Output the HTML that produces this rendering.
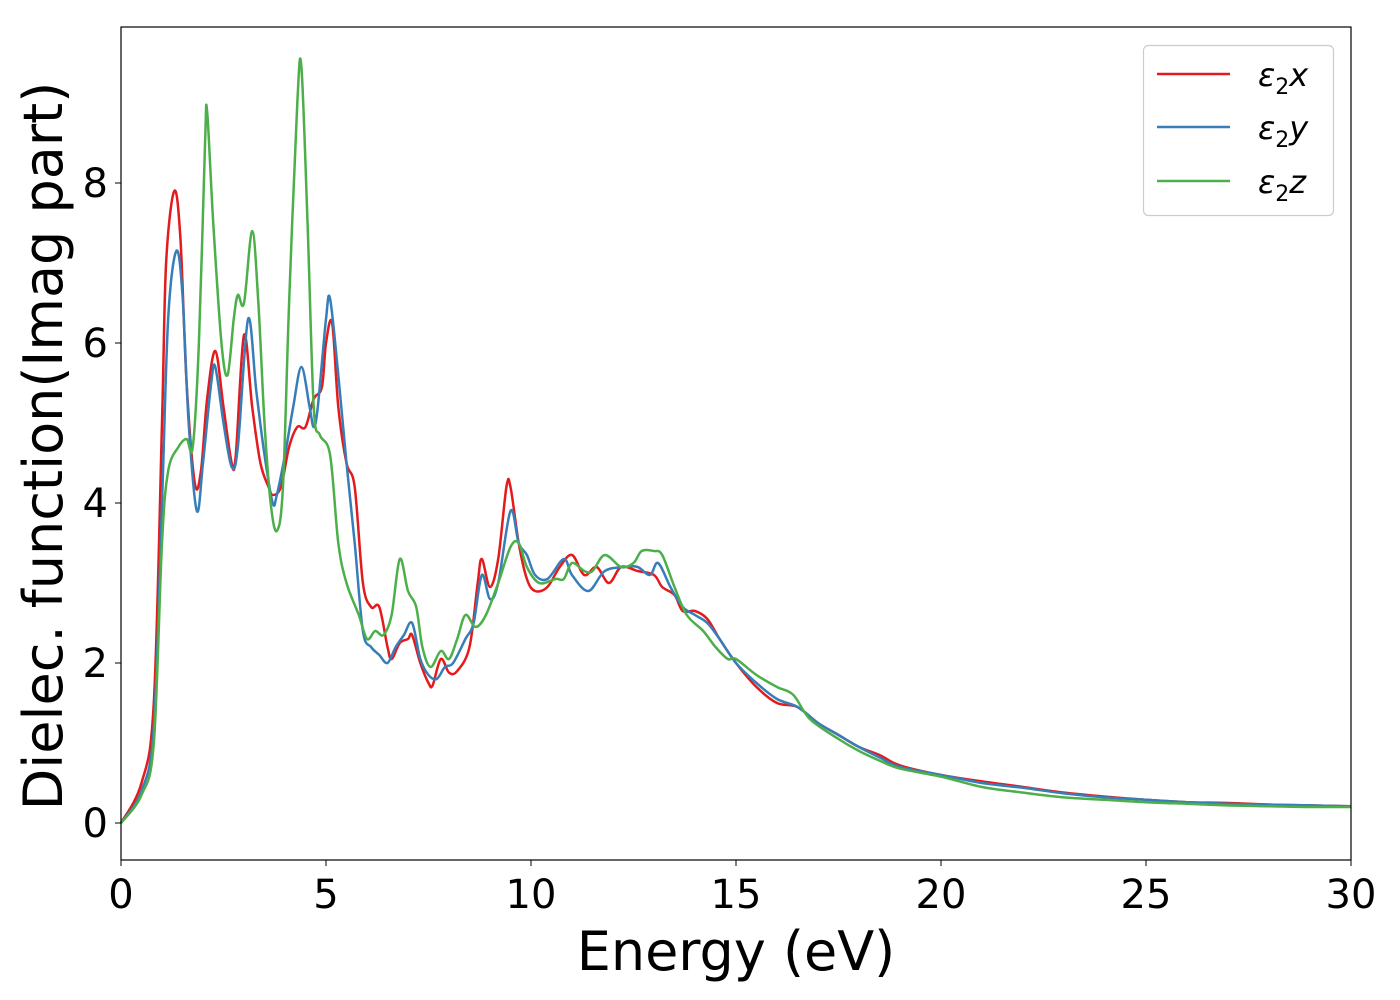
<!DOCTYPE html>
<html><head><meta charset="utf-8"><style>
html,body{margin:0;padding:0;background:#fff;}
svg{display:block;font-family:"DejaVu Sans","Liberation Sans",sans-serif;}
</style></head><body>
<svg id="chart" width="1400" height="1000" viewBox="0 0 1400 1000">
<rect x="0" y="0" width="1400" height="1000" fill="#fff"/>
<g id="series"></g>
<rect x="121" y="27" width="1230" height="833" fill="none" stroke="#000" stroke-width="1.2"/>
<g id="xticks"></g>
<g id="yticks"></g>
<text x="736" y="970" font-size="54" text-anchor="middle">Energy (eV)</text>
<text transform="translate(62,446) rotate(-90)" font-size="54" text-anchor="middle">Dielec. function(Imag part)</text>
<g>
<rect x="1143.5" y="45.5" width="190" height="170" rx="5" fill="#fff" fill-opacity="0.8" stroke="#ccc" stroke-width="1.2"/>
<line x1="1157" y1="74" x2="1230" y2="74" stroke="#e41a1c" stroke-width="2.5"/>
<text x="1258" y="86" font-size="32" font-style="italic">ε<tspan font-style="normal" font-size="22" dy="8">2</tspan><tspan dy="-8">x</tspan></text>
<line x1="1157" y1="127" x2="1230" y2="127" stroke="#377eb8" stroke-width="2.5"/>
<text x="1258" y="139" font-size="32" font-style="italic">ε<tspan font-style="normal" font-size="22" dy="8">2</tspan><tspan dy="-8">y</tspan></text>
<line x1="1157" y1="181" x2="1230" y2="181" stroke="#4daf4a" stroke-width="2.5"/>
<text x="1258" y="193" font-size="32" font-style="italic">ε<tspan font-style="normal" font-size="22" dy="8">2</tspan><tspan dy="-8">z</tspan></text>
</g>
</svg>
<script>
const xTicks=[0,5,10,15,20,25,30];
const yTicks=[0,2,4,6,8];
const energyX=[0,0.5,0.8,1.0,1.1,1.3,1.45,1.6,1.8,1.95,2.1,2.3,2.5,2.7,2.8,3.0,3.2,3.4,3.6,3.7,3.9,4.1,4.3,4.5,4.7,4.9,5.0,5.15,5.3,5.5,5.7,5.9,6.1,6.3,6.5,6.6,6.8,7.0,7.1,7.3,7.5,7.6,7.8,8.0,8.2,8.5,8.7,8.8,9.0,9.2,9.4,9.5,9.7,9.9,10.1,10.4,10.7,11.0,11.3,11.6,11.9,12.2,12.6,13.0,13.2,13.5,13.7,14.0,14.3,14.6,15,15.5,16,16.5,17,17.5,18,18.5,19,20,21,22,23,24,25,26,27,28,29,30];
const eps2x=[0,0.5,1.5,5.0,7.0,7.9,7.3,5.5,4.25,4.4,5.3,5.9,5.2,4.5,4.6,6.1,5.2,4.5,4.2,4.1,4.2,4.7,4.95,4.95,5.3,5.45,6.0,6.25,5.2,4.5,4.2,3.0,2.7,2.7,2.2,2.05,2.25,2.3,2.35,2.0,1.75,1.72,2.05,1.88,1.9,2.2,3.0,3.3,2.95,3.3,4.2,4.2,3.5,3.05,2.9,2.95,3.2,3.35,3.1,3.2,3.0,3.2,3.15,3.1,2.95,2.85,2.65,2.65,2.55,2.3,2.0,1.7,1.5,1.45,1.25,1.1,0.95,0.85,0.72,0.6,0.52,0.45,0.38,0.33,0.29,0.26,0.25,0.23,0.22,0.21];
const energyY=[0,0.5,0.8,1.0,1.15,1.35,1.5,1.65,1.85,2.0,2.2,2.3,2.5,2.7,2.85,3.1,3.3,3.5,3.7,3.8,4.0,4.2,4.4,4.6,4.7,4.8,5.0,5.1,5.3,5.5,5.7,5.9,6.1,6.3,6.5,6.7,6.9,7.1,7.3,7.5,7.7,7.9,8.1,8.4,8.6,8.8,9.0,9.2,9.5,9.7,9.9,10.1,10.4,10.8,11.0,11.4,11.8,12.3,12.6,12.9,13.1,13.4,13.7,14.0,14.3,14.6,15,15.5,16,16.5,17,17.5,18,18.5,19,20,21,22,23,24,25,26,27,28,29,30];
const eps2y=[0,0.4,1.2,4.0,6.3,7.15,6.6,5.0,3.9,4.5,5.5,5.7,5.0,4.45,4.7,6.3,5.4,4.6,4.0,4.1,4.6,5.2,5.7,5.2,4.95,5.2,6.3,6.55,5.6,4.5,3.5,2.4,2.2,2.1,2.0,2.2,2.35,2.5,2.05,1.85,1.8,1.95,2.0,2.3,2.5,3.1,2.8,3.0,3.9,3.5,3.35,3.1,3.05,3.3,3.1,2.9,3.15,3.2,3.2,3.1,3.25,2.95,2.7,2.6,2.5,2.3,2.0,1.75,1.55,1.45,1.25,1.1,0.95,0.82,0.7,0.6,0.5,0.44,0.37,0.32,0.29,0.26,0.24,0.23,0.22,0.21];
const energyZ=[0,0.5,0.8,1.0,1.15,1.4,1.6,1.75,1.9,2.05,2.1,2.25,2.45,2.6,2.75,2.85,3.0,3.2,3.35,3.5,3.65,3.8,3.95,4.1,4.3,4.4,4.55,4.7,4.85,5.1,5.3,5.5,5.8,6.0,6.2,6.4,6.6,6.8,7.0,7.2,7.35,7.55,7.8,8.0,8.2,8.4,8.65,8.9,9.2,9.5,9.7,9.9,10.2,10.6,10.8,11.0,11.3,11.5,11.8,12.2,12.5,12.7,13.0,13.2,13.5,13.8,14.2,14.5,14.8,15.0,15.5,16,16.4,16.8,17.5,18,18.5,19,20,21,22,23,24,25,26,27,28,29,30];
const eps2z=[0,0.35,1.0,3.5,4.4,4.7,4.8,4.7,6.0,8.5,8.9,7.5,6.0,5.6,6.3,6.6,6.5,7.4,6.5,5.0,4.0,3.65,4.2,6.5,9.0,9.45,7.5,5.2,4.85,4.6,3.5,3.0,2.6,2.3,2.4,2.35,2.6,3.3,2.9,2.7,2.2,1.95,2.15,2.05,2.3,2.6,2.45,2.6,3.0,3.45,3.5,3.2,3.0,3.05,3.05,3.25,3.15,3.15,3.35,3.2,3.25,3.4,3.4,3.35,2.95,2.6,2.4,2.2,2.05,2.05,1.85,1.7,1.6,1.3,1.05,0.9,0.78,0.68,0.58,0.45,0.38,0.32,0.29,0.26,0.24,0.22,0.21,0.2,0.2];

const NS='http://www.w3.org/2000/svg';
const X0=121,X1=1351,Y0=823,YPU=80;
const xs=e=>X0+(e-0)/(30-0)*(X1-X0);
const ys=v=>Y0-v*YPU;

const xt=document.getElementById('xticks');
xTicks.forEach(t=>{
  const l=document.createElementNS(NS,'line');
  l.setAttribute('x1',xs(t));l.setAttribute('x2',xs(t));l.setAttribute('y1',860);l.setAttribute('y2',866);
  l.setAttribute('stroke','#000');
  
  
  xt.appendChild(l);
  const tx=document.createElementNS(NS,'text');
  tx.setAttribute('x',xs(t));tx.setAttribute('y',908);tx.setAttribute('font-size','40');tx.setAttribute('text-anchor','middle');
  tx.textContent=t;
  
  
  xt.appendChild(tx);
});
const yt=document.getElementById('yticks');
yTicks.forEach(t=>{
  const l=document.createElementNS(NS,'line');
  l.setAttribute('x1',115);l.setAttribute('x2',121);l.setAttribute('y1',ys(t));l.setAttribute('y2',ys(t));
  l.setAttribute('stroke','#000');
  
  
  yt.appendChild(l);
  const tx=document.createElementNS(NS,'text');
  tx.setAttribute('x',108);tx.setAttribute('y',ys(t)+14);tx.setAttribute('font-size','40');tx.setAttribute('text-anchor','end');
  tx.textContent=t;
  
  
  yt.appendChild(tx);
});

function smoothPath(ex,vy){
  const p=ex.map((e,i)=>[xs(e),ys(vy[i])]);
  let d='M'+p[0][0]+','+p[0][1];
  for(let i=0;i<p.length-1;i++){
    const p0=p[i-1]||p[i],p1=p[i],p2=p[i+1],p3=p[i+2]||p2;
    const c1=[p1[0]+(p2[0]-p0[0])/6,p1[1]+(p2[1]-p0[1])/6];
    const c2=[p2[0]-(p3[0]-p1[0])/6,p2[1]-(p3[1]-p1[1])/6];
    d+=' C'+c1[0]+','+c1[1]+' '+c2[0]+','+c2[1]+' '+p2[0]+','+p2[1];
  }
  return d;
}
const sg=document.getElementById('series');
[[energyX,eps2x,'#e41a1c','eps2-x-line'],[energyY,eps2y,'#377eb8','eps2-y-line'],[energyZ,eps2z,'#4daf4a','eps2-z-line']].forEach(s=>{
  const path=document.createElementNS(NS,'path');
  path.setAttribute('d',smoothPath(s[0],s[1]));
  path.setAttribute('fill','none');path.setAttribute('stroke',s[2]);path.setAttribute('stroke-width','2.5');
  path.setAttribute('stroke-linejoin','round');
  
  
  sg.appendChild(path);
});
</script>
</body></html>
